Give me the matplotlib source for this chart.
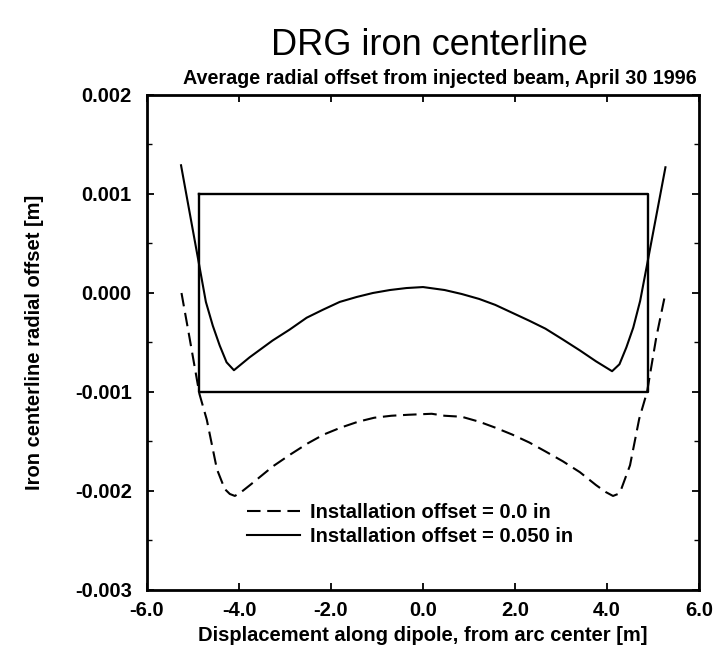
import matplotlib
matplotlib.use("Agg")
import matplotlib.pyplot as plt
from matplotlib.ticker import MultipleLocator

# solid curve: installation offset = 0.050 in  (y in units of 1e-3 m)
x_solid = [-5.26, -4.88, -4.72, -4.57, -4.42, -4.27, -4.11, -3.77, -3.27, -2.90,
           -2.53, -2.18, -1.81, -1.44, -1.09, -0.72, -0.36, 0.00, 0.47, 0.84,
           1.22, 1.57, 1.94, 2.31, 2.66, 3.04, 3.41, 3.76, 4.11, 4.27, 4.42,
           4.57, 4.72, 4.88, 5.27]
y_solid = [1.29, 0.32, -0.09, -0.33, -0.53, -0.70, -0.78, -0.65, -0.48, -0.37,
           -0.25, -0.17, -0.09, -0.04, 0.00, 0.03, 0.05, 0.06, 0.03, -0.01,
           -0.06, -0.12, -0.20, -0.28, -0.36, -0.47, -0.58, -0.69, -0.79, -0.72,
           -0.55, -0.35, -0.08, 0.31, 1.27]

# dashed curve: installation offset = 0.0 in
x_dash = [-5.25, -5.08, -4.86, -4.70, -4.48, -4.31, -4.20, -4.09, -3.95, -3.76,
          -3.26, -2.88, -2.51, -2.16, -1.79, -1.41, -1.06, -0.69, -0.32, 0.19,
          0.47, 0.84, 1.22, 1.57, 1.94, 2.31, 2.66, 3.04, 3.41, 3.76, 3.97,
          4.13, 4.24, 4.31, 4.50, 4.70, 4.87, 5.07, 5.27]
y_dash = [0.00, -0.44, -1.02, -1.28, -1.78, -1.98, -2.03, -2.05, -2.01, -1.94,
          -1.75, -1.63, -1.52, -1.43, -1.36, -1.30, -1.26, -1.24, -1.23, -1.22,
          -1.24, -1.25, -1.30, -1.36, -1.43, -1.51, -1.60, -1.70, -1.81, -1.94,
          -2.01, -2.05, -2.03, -1.98, -1.74, -1.27, -1.00, -0.45, 0.00]

# aperture box
box_x = [-4.88, 4.88, 4.88, -4.88, -4.88]
box_y = [1.0, 1.0, -1.0, -1.0, 1.0]

labels = ["Installation offset = 0.0 in", "Installation offset = 0.050 in"]
y_ticks = [0.002, 0.001, 0.0, -0.001, -0.002, -0.003]
y_ticklabels = ["0.002", "0.001", "0.000", "-0.001", "-0.002", "-0.003"]
x_ticks = [-6, -4, -2, 0, 2, 4, 6]
x_ticklabels = ["-6.0", "-4.0", "-2.0", "0.0", "2.0", "4.0", "6.0"]

plt.rcParams['font.family'] = ['Liberation Sans', 'DejaVu Sans']

fig = plt.figure(figsize=(7.16, 6.52), dpi=100)
ax = fig.add_axes([0.2053, 0.0951, 0.771, 0.7592])

scale = 1e-3
ax.plot(box_x, [v * scale for v in box_y], color="black", linewidth=1.7)
ax.plot(x_dash, [v * scale for v in y_dash], color="black", linewidth=1.5,
        linestyle=(0, (6.5, 3.2)), label=labels[0])
ax.plot(x_solid, [v * scale for v in y_solid], color="black", linewidth=1.5,
        solid_joinstyle="round", label=labels[1])

ax.set_xlim(-6, 6)
ax.set_ylim(-0.003, 0.002)
ax.set_xticks(x_ticks)
ax.set_xticklabels(x_ticklabels)
ax.set_yticks(y_ticks)
ax.set_yticklabels(y_ticklabels)
ax.yaxis.set_minor_locator(MultipleLocator(0.0005))

ax.tick_params(which="both", direction="in", top=True, right=True)
ax.tick_params(which="major", length=5, width=1.3, labelsize=14.5)
ax.tick_params(axis="y", which="major", pad=11)
ax.tick_params(axis="x", which="major", pad=8)
ax.tick_params(which="minor", length=3.5, width=1.0)
for lbl in ax.get_xticklabels() + ax.get_yticklabels():
    lbl.set_fontweight("bold")
for s in ax.spines.values():
    s.set_linewidth(2.0)

ax.set_xlabel("Displacement along dipole, from arc center [m]",
              fontsize=14.5, fontweight="bold", labelpad=4)
ax.set_ylabel("Iron centerline radial offset [m]",
              fontsize=14.5, fontweight="bold", labelpad=22)

fig.text(0.6, 0.93, "DRG iron centerline", fontsize=26, ha="center", va="center")
fig.text(0.615, 0.88, "Average radial offset from injected beam, April 30 1996",
         fontsize=14.2, fontweight="bold", ha="center", va="center")

leg = ax.legend(loc="upper left", bbox_to_anchor=(0.181, 0.175), frameon=False,
                handlelength=2.65, fontsize=14.5, labelspacing=0.25,
                handletextpad=0.5, borderpad=0, borderaxespad=0)
for t in leg.get_texts():
    t.set_fontweight("bold")

fig.savefig("out.png", dpi=100)
